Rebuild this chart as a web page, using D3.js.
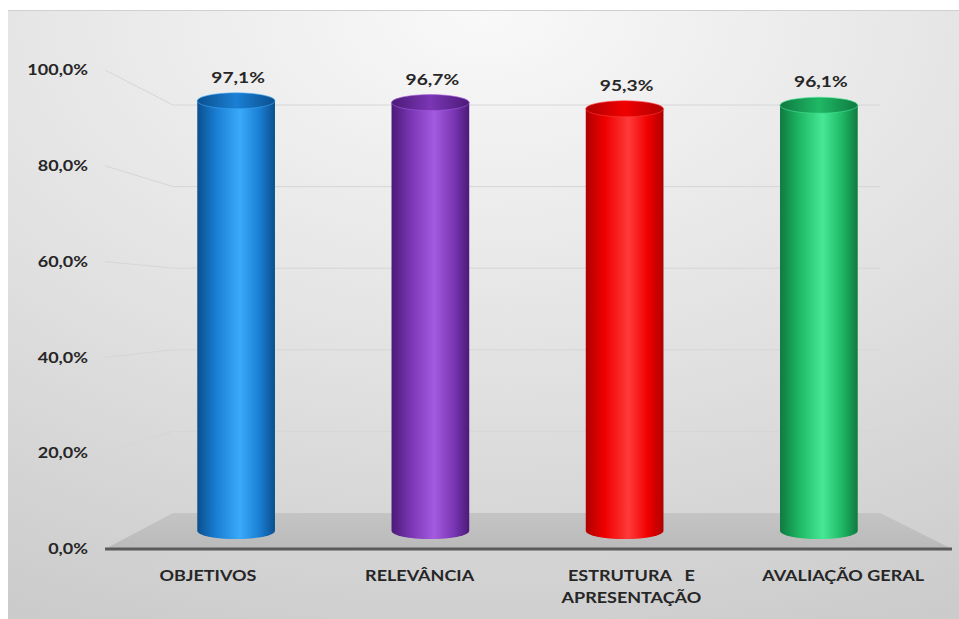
<!DOCTYPE html>
<html>
<head>
<meta charset="utf-8">
<script src="https://cdn.jsdelivr.net/npm/d3@7/dist/d3.min.js"></script>
<style>
  html, body { margin: 0; padding: 0; background: #ffffff; }
  svg { display: block; }
  text { font-family: Lato, "Open Sans", "Liberation Sans", sans-serif; font-weight: bold; fill: #262626; }
</style>
</head>
<body>
<svg id="chart" width="959" height="619"></svg>
<script>
// Survey results per evaluation topic (percent)
const categories = ["OBJETIVOS", "RELEVÂNCIA", "ESTRUTURA E APRESENTAÇÃO", "AVALIAÇÃO GERAL"];
const categoryLines = [["OBJETIVOS"], ["RELEVÂNCIA"], ["ESTRUTURA   E", "APRESENTAÇÃO"], ["AVALIAÇÃO GERAL"]];
const values = [97.1, 96.7, 95.3, 96.1];
const yTicks = [0, 20, 40, 60, 80, 100];

// Cylinder colours: [dark edge, base, highlight]
const palette = [
  ["#0b4f8e", "#1a7fd4", "#3aaaf8"],
  ["#4b1a78", "#7a36b4", "#a45ae0"],
  ["#b00000", "#f00000", "#ff3a3a"],
  ["#0f7a40", "#1fb865", "#46e896"]
];

const svg = d3.select("#chart");
const defs = svg.append("defs");

// Three depth planes of the pseudo-3D chart: front edge, cylinder middle, back wall
const xFront = d3.scaleBand().domain(categories).range([105, 952]);
const xMid = d3.scaleBand().domain(categories).range([139, 916]);
const xBack = d3.scaleBand().domain(categories).range([173, 880]);
const yFront = d3.scaleLinear().domain([0, 100]).range([549, 70]);
const yMid = d3.scaleLinear().domain([0, 100]).range([531, 88]);
const yBack = d3.scaleLinear().domain([0, 100]).range([513, 105]);

const pct = v => d3.format(".1f")(v).replace(".", ",") + "%";
// Labels use a slightly widened face
const widen = 1.2;
const place = (x, y) => `translate(${x},${y}) scale(${widen},1)`;

// Chart area background
const bg = defs.append("radialGradient").attr("id", "bgGrad")
  .attr("cx", "50%").attr("cy", "0%").attr("r", "110%")
  .attr("fx", "50%").attr("fy", "0%");
bg.append("stop").attr("offset", "0%").attr("stop-color", "#f9f9f9");
bg.append("stop").attr("offset", "55%").attr("stop-color", "#e1e1e1");
bg.append("stop").attr("offset", "100%").attr("stop-color", "#cbcbcb");

svg.append("rect").attr("x", 8).attr("y", 10).attr("width", 951).attr("height", 609)
  .attr("fill", "url(#bgGrad)");
svg.append("line").attr("x1", 8).attr("x2", 959).attr("y1", 10.5).attr("y2", 10.5)
  .attr("stroke", "#d0d0d0").attr("stroke-width", 1);

// Gridlines: slanted side-wall segment then straight across the back wall
const x0Front = xFront.range()[0], x0Back = xBack.range()[0], x1Back = xBack.range()[1];
svg.append("g").selectAll("path")
  .data(yTicks.filter(t => t > 0))
  .join("path")
  .attr("d", t => `M${x0Front},${yFront(t)} L${x0Back},${yBack(t)} L${x1Back},${yBack(t)}`)
  .attr("fill", "none").attr("stroke", "#d6d6d6").attr("stroke-width", 1);

// Floor
const floorGrad = defs.append("linearGradient").attr("id", "floorGrad")
  .attr("x1", 0).attr("y1", 0).attr("x2", 0).attr("y2", 1);
floorGrad.append("stop").attr("offset", "0%").attr("stop-color", "#c4c4c4");
floorGrad.append("stop").attr("offset", "100%").attr("stop-color", "#bababa");
const x1Front = xFront.range()[1];
svg.append("path")
  .attr("d", `M${x0Front},${yFront(0)} L${x0Back},${yBack(0)} L${x1Back},${yBack(0)} L${x1Front},${yFront(0)} Z`)
  .attr("fill", "url(#floorGrad)");
svg.append("line")
  .attr("x1", x0Front).attr("x2", x1Front).attr("y1", yFront(0)).attr("y2", yFront(0))
  .attr("stroke", "#5a5a5a").attr("stroke-width", 3);

// Y axis labels
svg.append("g").selectAll("text")
  .data(yTicks)
  .join("text")
  .attr("transform", t => place(88, yFront(t)))
  .attr("dy", "0.35em")
  .attr("text-anchor", "end")
  .attr("font-size", 15)
  .text(pct);

// Cylinders
palette.forEach((p, i) => {
  const g = defs.append("linearGradient").attr("id", "body" + i)
    .attr("x1", 0).attr("y1", 0).attr("x2", 1).attr("y2", 0);
  g.append("stop").attr("offset", "0%").attr("stop-color", p[0]);
  g.append("stop").attr("offset", "25%").attr("stop-color", p[1]);
  g.append("stop").attr("offset", "55%").attr("stop-color", p[2]);
  g.append("stop").attr("offset", "80%").attr("stop-color", p[1]);
  g.append("stop").attr("offset", "100%").attr("stop-color", p[0]);
  const t = defs.append("linearGradient").attr("id", "top" + i)
    .attr("x1", 0).attr("y1", 0).attr("x2", 1).attr("y2", 0);
  t.append("stop").attr("offset", "0%").attr("stop-color", p[0]);
  t.append("stop").attr("offset", "50%").attr("stop-color", p[1]);
  t.append("stop").attr("offset", "100%").attr("stop-color", p[0]);
});

const rx = xMid.bandwidth() * 0.2;
const ry = 8;
const bars = svg.append("g").selectAll("g")
  .data(categories.map((c, i) => ({ c, v: values[i], i })))
  .join("g");

bars.append("path")
  .attr("d", d => {
    const cx = xMid(d.c) + xMid.bandwidth() / 2;
    const yt = yMid(d.v), yb = yMid(0);
    return `M${cx - rx},${yt} L${cx - rx},${yb} A${rx},${ry} 0 0 0 ${cx + rx},${yb} L${cx + rx},${yt} Z`;
  })
  .attr("fill", d => `url(#body${d.i})`);

bars.append("ellipse")
  .attr("cx", d => xMid(d.c) + xMid.bandwidth() / 2)
  .attr("cy", d => yMid(d.v))
  .attr("rx", rx).attr("ry", ry)
  .attr("fill", d => `url(#top${d.i})`)
  .attr("stroke", d => palette[d.i][2]).attr("stroke-width", 1).attr("stroke-opacity", 0.6);

// Value labels
bars.append("text")
  .attr("transform", d => place(xMid(d.c) + xMid.bandwidth() / 2 + 2, yMid(d.v) - ry - 10))
  .attr("text-anchor", "middle")
  .attr("font-size", 16)
  .text(d => pct(d.v));

// Category labels on the front edge
const cat = svg.append("g").selectAll("text")
  .data(categories.map((c, i) => ({ c, lines: categoryLines[i] })))
  .join("text")
  .attr("transform", d => place(xFront(d.c) + xFront.bandwidth() / 2 - 3, 581))
  .attr("text-anchor", "middle")
  .attr("font-size", 15)
  .style("white-space", "pre");
cat.selectAll("tspan")
  .data(d => d.lines.map((l, k) => ({ l, k })))
  .join("tspan")
  .attr("x", 0)
  .attr("dy", d => d.k === 0 ? 0 : 22)
  .text(d => d.l);
</script>
</body>
</html>
